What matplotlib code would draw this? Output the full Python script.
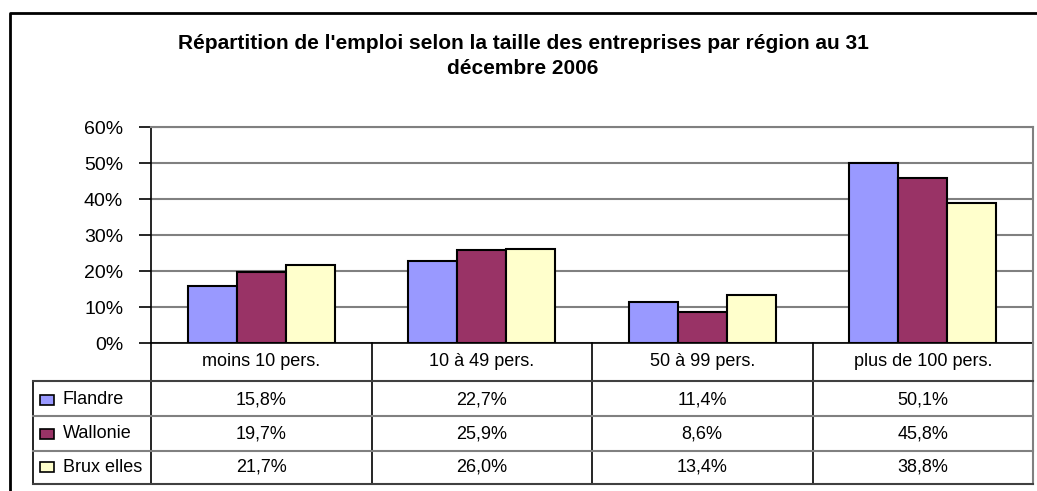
import matplotlib.pyplot as plt
import matplotlib.transforms as mtransforms
from matplotlib.lines import Line2D
from matplotlib.patches import Rectangle
import numpy as np

plt.rcParams['font.family'] = ['Liberation Sans', 'DejaVu Sans']

# data
categories = ['moins 10 pers.', '10 à 49 pers.', '50 à 99 pers.', 'plus de 100 pers.']
regions = ['Flandre', 'Wallonie', 'Brux elles']
flandre = [15.8, 22.7, 11.4, 50.1]
wallonie = [19.7, 25.9, 8.6, 45.8]
bruxelles = [21.7, 26.0, 13.4, 38.8]
series = [flandre, wallonie, bruxelles]
colors = ['#9999FF', '#993366', '#FFFFCC']
yticks = [0, 10, 20, 30, 40, 50, 60]
title = "Répartition de l'emploi selon la taille des entreprises par région au 31\ndécembre 2006"

W, H = 1037, 491
fig = plt.figure(figsize=(W / 100, H / 100), dpi=100)

def fx(x):
    return x / W

def fy(y):
    return 1 - y / H

# plot area in pixel positions
left, right, top, bottom = 151, 1033, 127, 343
ax = fig.add_axes([fx(left), fy(bottom), fx(right - left), (bottom - top) / H])

n = len(categories)
x = np.arange(n)
w = 1 / 4.5
for i, vals in enumerate(series):
    ax.bar(x + (i - 1) * w, vals, width=w, color=colors[i], edgecolor='black', linewidth=1.5, zorder=3)

ax.set_xlim(-0.5, n - 0.5)
ax.set_ylim(0, 60)
ax.set_yticks(yticks)
ax.set_yticklabels([f'{t}%' for t in yticks], fontsize=14)
ax.set_xticks([])
ax.yaxis.grid(True, color='#808080', linewidth=1.5, zorder=0)
ax.tick_params(axis='y', length=9, width=1.2, pad=11)
for s in ['top', 'right']:
    ax.spines[s].set_color('#808080')
    ax.spines[s].set_linewidth(1.5)
ax.spines['left'].set_linewidth(1.2)
ax.spines['bottom'].set_linewidth(1.2)

# title
fig.text(fx(523), fy(56), title, ha='center', va='center', fontsize=15, fontweight='bold', linespacing=1.4)

# data table below the axis
blend = mtransforms.blended_transform_factory(ax.transData, fig.transFigure)
header_y = 361
row_y = [400, 434, 467]
fs = 13

for i, cat in enumerate(categories):
    fig.text(i, fy(header_y), cat, transform=blend, ha='center', va='center', fontsize=fs)
    for r, vals in enumerate(series):
        fig.text(i, fy(row_y[r]), f'{vals[i]:.1f}%'.replace('.', ','), transform=blend,
                 ha='center', va='center', fontsize=fs)

# vertical dividers
for xb in np.arange(0.5, n - 1, 1.0):
    fig.add_artist(Line2D([xb, xb], [fy(343), fy(484)], transform=blend, color='black', lw=1.2))
fig.add_artist(Line2D([fx(left), fx(left)], [fy(343), fy(484)], color='black', lw=1.2))
fig.add_artist(Line2D([fx(right), fx(right)], [fy(343), fy(484)], color='#808080', lw=1.5))
fig.add_artist(Line2D([fx(33), fx(33)], [fy(381), fy(484)], color='black', lw=1.2))

# horizontal lines
fig.add_artist(Line2D([fx(33), fx(right)], [fy(381), fy(381)], color='#404040', lw=1.5))
fig.add_artist(Line2D([fx(33), fx(right)], [fy(416), fy(416)], color='#808080', lw=1.5))
fig.add_artist(Line2D([fx(33), fx(right)], [fy(451), fy(451)], color='#808080', lw=1.5))
fig.add_artist(Line2D([fx(33), fx(right)], [fy(484), fy(484)], color='#404040', lw=1.5))

# legend keys in table
for r, name in enumerate(regions):
    fig.add_artist(Rectangle((fx(40), fy(row_y[r] + 5)), fx(14), 10 / H, transform=fig.transFigure,
                             facecolor=colors[r], edgecolor='black', lw=1.2))
    fig.text(fx(63), fy(row_y[r]), name, ha='left', va='center', fontsize=fs)

# outer chart frame
fig.add_artist(Line2D([fx(10), fx(10), fx(W)], [0, fy(12.5), fy(12.5)], color='black', lw=2))

fig.savefig('out.png', dpi=100)
